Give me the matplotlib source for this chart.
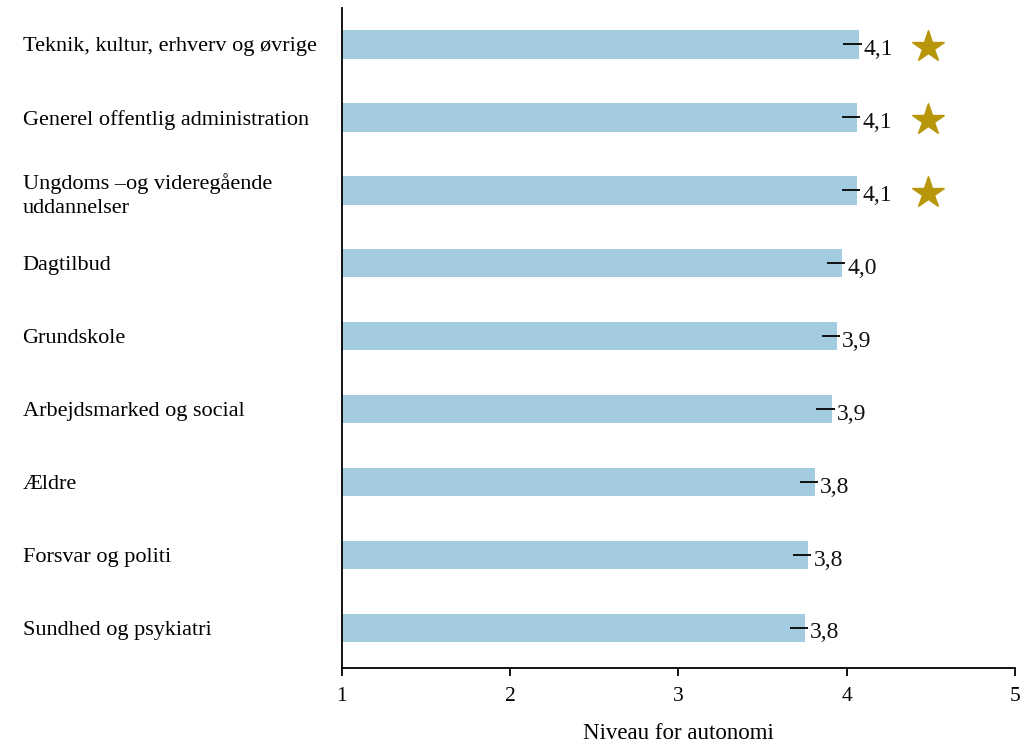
import numpy as np
import matplotlib.pyplot as plt

plt.rcParams['font.family'] = ['Liberation Serif', 'DejaVu Serif']

# Data
categories = ["Teknik, kultur, erhverv og øvrige",
              "Generel offentlig administration",
              "Ungdoms \u2013og videregående\nuddannelser",
              "Dagtilbud",
              "Grundskole",
              "Arbejdsmarked og social",
              "Ældre",
              "Forsvar og politi",
              "Sundhed og psykiatri"]
values = [4.07, 4.06, 4.06, 3.97, 3.94, 3.91, 3.81, 3.77, 3.75]
labels = ["4,1", "4,1", "4,1", "4,0", "3,9", "3,9", "3,8", "3,8", "3,8"]
err_low = [0.09, 0.09, 0.09, 0.09, 0.09, 0.09, 0.09, 0.09, 0.09]
err_high = [0.02, 0.02, 0.02, 0.02, 0.02, 0.02, 0.02, 0.02, 0.02]
starred = [True, True, True, False, False, False, False, False, False]
star_x = 4.48

bar_color = "#a3cce0"
star_color = "#b8960a"

fig = plt.figure(figsize=(10.35, 7.46), dpi=100)
ax = fig.add_axes([0.3304, 0.1046, 0.6503, 0.8847])

y = np.arange(len(categories))
vals = np.array(values)
ax.barh(y, vals - 1, left=1, height=0.39, color=bar_color)
ax.errorbar(vals, y, xerr=[err_low, err_high], fmt='none', ecolor='#111111',
            elinewidth=1.4, capsize=0)

for i in range(len(categories)):
    ax.text(vals[i] + err_high[i] + 0.012, y[i] + 0.07, labels[i], va='center',
            ha='left', fontsize=17, color='#111111')
    if starred[i]:
        ax.plot(star_x, y[i] + 0.04, marker='*', ms=24, color=star_color,
                mec=star_color, linestyle='none')

ax.set_xlim(1, 5)
ax.set_ylim(8.55, -0.5)
ax.set_xticks([1, 2, 3, 4, 5])
ax.set_xticklabels(["1", "2", "3", "4", "5"], fontsize=15.5)
ax.tick_params(axis='x', length=6, width=1.3, pad=8)
ax.set_yticks(y)
ax.set_yticklabels(categories, fontsize=16, ha='left', linespacing=1.38)
ax.tick_params(axis='y', length=0, pad=230)
ax.set_xlabel("Niveau for autonomi", fontsize=16.5, labelpad=12)

for s in ['top', 'right']:
    ax.spines[s].set_visible(False)
ax.spines['left'].set_linewidth(1.3)
ax.spines['bottom'].set_linewidth(1.3)

fig.savefig("out.png", dpi=100)
